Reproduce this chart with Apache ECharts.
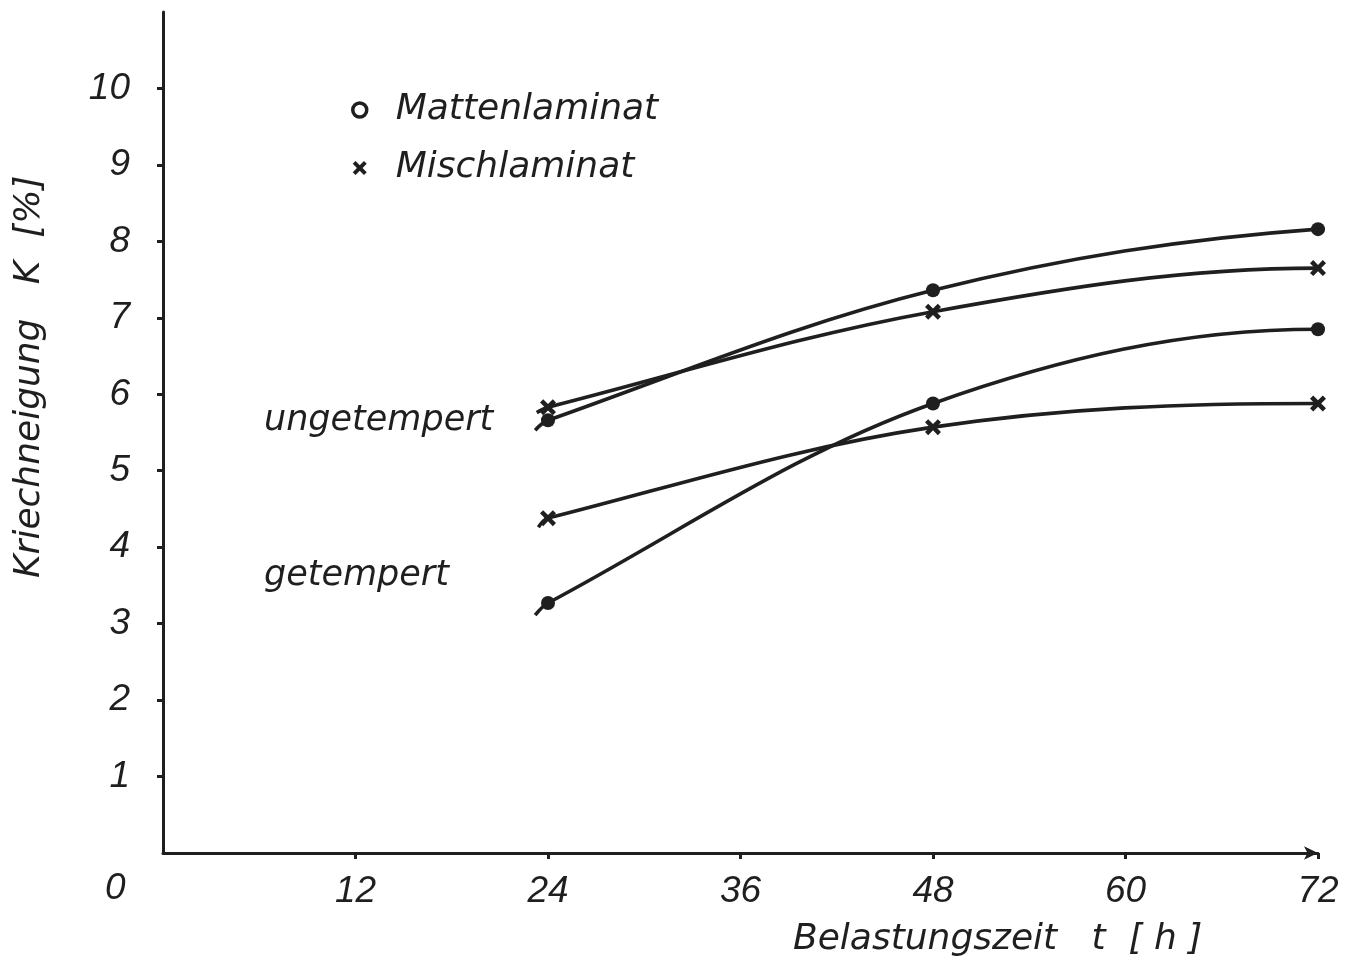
<!DOCTYPE html>
<html>
<head>
<meta charset="utf-8">
<script src="https://cdn.jsdelivr.net/npm/echarts@6/dist/echarts.min.js"></script>
<style>
html,body{margin:0;padding:0;background:#fff;}
#chart{width:1355px;height:960px;}
</style>
</head>
<body>
<div id="chart"></div>
<script>
// ---- data ----
const hours = [24, 48, 72];
const xTicks = [12, 24, 36, 48, 60, 72];
const yTicks = [1, 2, 3, 4, 5, 6, 7, 8, 9, 10];

const mattenUngetempert = [5.66, 7.36, 8.16];
const mischUngetempert  = [5.83, 7.08, 7.65];
const mattenGetempert   = [3.27, 5.88, 6.85];
const mischGetempert    = [4.38, 5.57, 5.88];

// hand-drawn curve continuation before 24 h and after 72 h  [hour, value]
const leadInMattenU  = [23.2, 5.53];
const leadOutMattenU = [73.9, 8.17];
const leadInMischU   = [23.3, 5.76];
const leadOutMischU  = [73.7, 7.65];
const leadInMattenG  = [23.2, 3.11];
const leadOutMattenG = [73.9, 6.85];
const leadInMischG   = [23.4, 4.26];
const leadOutMischG  = [73.6, 5.88];

const seriesNames = ['Mattenlaminat', 'Mischlaminat'];
const groupLabels = ['ungetempert', 'getempert'];
const xName = 'Belastungszeit   t  [ h ]';
const yName = 'Kriechneigung   K  [%]';

// ---- styling ----
const INK = '#1f1f1f';
const FONT = "'DejaVu Sans', sans-serif";
const NUMFONT = "'Liberation Sans', 'DejaVu Sans', sans-serif";
const crossPath = 'path://M2,0 L5,3 L8,0 L10,2 L7,5 L10,8 L8,10 L5,7 L2,10 L0,8 L3,5 L0,2 Z';

function build(name, values, leadIn, leadOut, symbol, size) {
  const data = [{ value: leadIn, symbol: 'none' }]
    .concat(hours.map((h, i) => [h, values[i]]))
    .concat([{ value: leadOut, symbol: 'none' }]);
  return {
    type: 'line', name: name, data: data, smooth: 0.35, clip: false,
    symbol: symbol, symbolSize: size, showAllSymbol: true,
    lineStyle: { color: INK, width: 3.6 },
    itemStyle: { color: INK },
    z: 3
  };
}

const chart = echarts.init(document.getElementById('chart'));
chart.setOption({
  backgroundColor: '#fff',
  animation: false,
  grid: { left: 163, right: 37, top: 12, bottom: 107 },
  legend: {
    orient: 'vertical', left: 346, top: 87, itemGap: 22,
    itemWidth: 14, itemHeight: 14, selectedMode: false,
    textStyle: { fontFamily: FONT, fontStyle: 'italic', fontSize: 36, color: INK, padding: [0, 0, 0, 24] },
    data: [
      { name: seriesNames[0], icon: 'circle', itemStyle: { color: '#fff', borderColor: INK, borderWidth: 3.5 } },
      { name: seriesNames[1], icon: crossPath, itemStyle: { color: INK } }
    ]
  },
  xAxis: {
    type: 'value', min: 0, max: 72, interval: 12,
    axisLine: { show: true, lineStyle: { color: INK, width: 3 }, symbol: ['none', 'arrow'], symbolSize: [10, 14], symbolOffset: [0, 0] },
    axisTick: { show: true, length: 6, lineStyle: { color: INK, width: 3 }, customValues: xTicks },
    axisLabel: { margin: 20, customValues: xTicks, fontFamily: NUMFONT, fontStyle: 'italic', fontSize: 37, color: INK },
    splitLine: { show: false }
  },
  yAxis: {
    type: 'value', min: 0, max: 11, interval: 1,
    axisLine: { show: true, lineStyle: { color: INK, width: 3 } },
    axisTick: { show: true, length: 6, lineStyle: { color: INK, width: 3 }, customValues: yTicks },
    axisLabel: { margin: 33, customValues: yTicks, fontFamily: NUMFONT, fontStyle: 'italic', fontSize: 37, color: INK },
    splitLine: { show: false }
  },
  graphic: [
    { type: 'text', left: 105, top: 870, style: { text: '0', font: "italic 37px " + NUMFONT, fill: INK } },
    { type: 'text', left: 264, top: 403, style: { text: groupLabels[0], font: "italic 35px " + FONT, fill: INK } },
    { type: 'text', left: 264, top: 558, style: { text: groupLabels[1], font: "italic 35px " + FONT, fill: INK } },
    { type: 'text', left: 793, top: 922, style: { text: xName, font: "italic 36px " + FONT, fill: INK } },
    { type: 'text', x: 12, y: 578, rotation: Math.PI / 2, style: { text: yName, font: "italic 36px " + FONT, fill: INK, align: 'left', verticalAlign: 'top' } }
  ],
  series: [
    build(seriesNames[0], mattenUngetempert, leadInMattenU, leadOutMattenU, 'circle', 14),
    build(seriesNames[1], mischUngetempert, leadInMischU, leadOutMischU, crossPath, 16),
    build(seriesNames[0], mattenGetempert, leadInMattenG, leadOutMattenG, 'circle', 14),
    build(seriesNames[1], mischGetempert, leadInMischG, leadOutMischG, crossPath, 16)
  ]
});
</script>
</body>
</html>
